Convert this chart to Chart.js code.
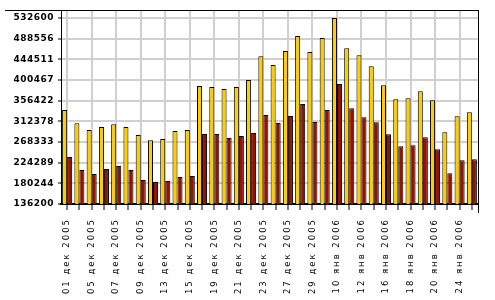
<!DOCTYPE html>
<html>
<head>
<meta charset="utf-8">
<script src="https://cdn.jsdelivr.net/npm/chart.js@4"></script>
<style>
  html, body { margin: 0; padding: 0; background: #fff; }
  #wrap { width: 495px; height: 300px; }
</style>
</head>
<body>
<div id="wrap"><canvas id="myChart" width="495" height="300"></canvas></div>
<script>
// trading days, every other one gets a label
const categories = [
  '01 дек 2005', '02 дек 2005', '05 дек 2005', '06 дек 2005', '07 дек 2005', '08 дек 2005',
  '09 дек 2005', '12 дек 2005', '13 дек 2005', '14 дек 2005', '15 дек 2005', '16 дек 2005',
  '19 дек 2005', '20 дек 2005', '21 дек 2005', '22 дек 2005', '23 дек 2005', '26 дек 2005',
  '27 дек 2005', '28 дек 2005', '29 дек 2005', '30 дек 2005', '10 янв 2006', '11 янв 2006',
  '12 янв 2006', '13 янв 2006', '16 янв 2006', '17 янв 2006', '18 янв 2006', '19 янв 2006',
  '20 янв 2006', '23 янв 2006', '24 янв 2006', '25 янв 2006'
];

const yellowValues = [
  336500, 308200, 293900, 300300, 306100, 300300, 283300, 272000, 274700, 291800, 293900, 387700,
  385600, 381300, 385600, 400500, 451000, 432400, 462300, 494200, 460100, 490000, 532600, 468000,
  453100, 429700, 389200, 359300, 361500, 376400, 357200, 289000, 323100, 331600
];

const redValues = [
  236400, 208700, 200100, 210800, 217200, 208700, 187300, 183100, 185200, 193700, 195900, 285400,
  285400, 276900, 281100, 287500, 325900, 308800, 323700, 349300, 311000, 336500, 391900, 340200,
  321000, 310300, 284700, 259200, 261300, 278400, 252800, 201600, 229300, 231500
];

const yTicks = [136200, 180244, 224289, 268333, 312378, 356422, 400467, 444511, 488556, 532600];

// wider letter spacing on tick labels + the frame around the plot
const frame = {
  id: 'frame',
  beforeDraw(chart) {
    const spacing = {x: '2px', y: '0.5px'};
    for (const id of ['x', 'y']) {
      const s = chart.scales[id];
      if (!s._spaced) {
        const orig = s.drawLabels.bind(s);
        s.drawLabels = (area) => {
          chart.ctx.save();
          chart.ctx.letterSpacing = spacing[id];
          orig(area);
          chart.ctx.restore();
        };
        s._spaced = true;
      }
    }
  },
  afterDraw(chart) {
    const {ctx, chartArea: {top, right, bottom}} = chart;
    ctx.save();
    ctx.strokeStyle = '#000';
    ctx.lineWidth = 1;
    ctx.beginPath();
    ctx.moveTo(5, top + 0.5);
    ctx.lineTo(right + 0.5, top + 0.5);
    ctx.moveTo(right + 0.5, top);
    ctx.lineTo(right + 0.5, bottom + 9);
    ctx.stroke();
    ctx.restore();
  }
};

const ctx = document.getElementById('myChart').getContext('2d');

const myChart = new Chart(ctx, {
  type: 'bar',
  data: {
    labels: categories,
    datasets: [{
      data: yellowValues,
      backgroundColor: '#ffcc00',
      borderColor: '#000',
      borderWidth: 1,
      borderSkipped: false
    }, {
      data: redValues,
      backgroundColor: '#991100',
      borderColor: '#000',
      borderWidth: 1,
      borderSkipped: false
    }]
  },
  plugins: [frame],
  options: {
    responsive: false,
    animation: false,
    layout: {padding: {top: 10, right: 17, left: 0, bottom: 0}},
    datasets: {bar: {categoryPercentage: 0.82, barPercentage: 1}},
    plugins: {legend: {display: false}, tooltip: {enabled: false}},
    scales: {
      x: {
        offset: true,
        afterFit(scale) { scale.height = 96; },
        border: {color: '#000', width: 2},
        grid: {
          offset: false,
          color: (c) => c.index % 2 === 0 ? '#d0d0d0' : 'rgba(0,0,0,0)',
          lineWidth: 2,
          tickColor: '#000',
          tickWidth: 1,
          tickLength: 6
        },
        ticks: {
          autoSkip: false,
          minRotation: 90,
          maxRotation: 90,
          padding: 8,
          color: '#000',
          font: {family: 'DejaVu Sans', size: 8.5},
          callback(value, index) { return index % 2 === 0 ? categories[index] : ''; }
        }
      },
      y: {
        min: 136200,
        max: 549650,
        afterFit(scale) { scale.width = 61; },
        afterBuildTicks(scale) { scale.ticks = yTicks.map(v => ({value: v})); },
        border: {color: '#000', width: 1},
        grid: {
          color: '#d0d0d0',
          lineWidth: 2,
          tickColor: '#000',
          tickWidth: 1,
          tickLength: 3
        },
        ticks: {
          padding: 4,
          color: '#000',
          font: {family: 'DejaVu Sans', size: 9, weight: 'bold'},
          callback(value) { return String(Math.round(value)); }
        }
      }
    }
  }
});
</script>
</body>
</html>
